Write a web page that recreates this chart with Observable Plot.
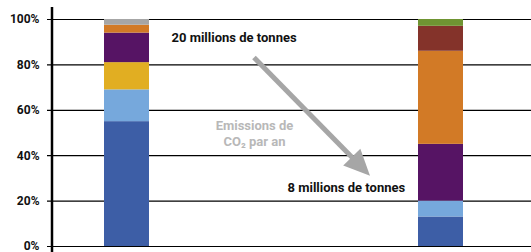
<!DOCTYPE html>
<html>
<head>
<meta charset="utf-8">
<script src="https://cdn.jsdelivr.net/npm/d3@7"></script>
<script src="https://cdn.jsdelivr.net/npm/@observablehq/plot@0.6"></script>
<style>
  body { margin: 0; background: #fff; }
  svg { font-family: Roboto, "DejaVu Sans", sans-serif; }
</style>
</head>
<body>
<div id="chart"></div>
<script>
// Data
const bars = ["Avant", "Après"];
const sources = ["s1", "s2", "s3", "s4", "s5", "s6", "s7", "s8"];
const colors = ["#3d5ea6", "#76a8dc", "#e1ae22", "#561464", "#d27a26", "#a6a6a6", "#84332a", "#6f9432"];
const avantValues = [55, 14, 12, 13, 3.5, 2.5, 0, 0];
const apresValues = [13, 7, 0, 25, 41, 0, 11, 3];
const yTicks = [0, 20, 40, 60, 80, 100];
const labelTop = "20 millions de tonnes";
const labelBottom = "8 millions de tonnes";
const arrowLabel = ["Emissions de", "CO₂ par an"];

const rows = [];
sources.forEach((s, i) => {
  rows.push({bar: bars[0], source: s, value: avantValues[i]});
  rows.push({bar: bars[1], source: s, value: apresValues[i]});
});

// arrow annotation (from ~83% down to ~31%)
const arrowMark = (index, scales, values, dims) => {
  const y = scales.y;
  const x0 = 254, y0 = y(83);
  const x1 = 370, y1 = y(31);
  const dx = x1 - x0, dy = y1 - y0, L = Math.hypot(dx, dy);
  const ux = dx / L, uy = dy / L;
  const headLen = 26, headW = 12;
  const bx = x1 - ux * headLen, by = y1 - uy * headLen;
  const g = d3.create("svg:g");
  g.append("line").attr("x1", x0).attr("y1", y0).attr("x2", bx + ux * 2).attr("y2", by + uy * 2)
    .attr("stroke", "#a6a6a6").attr("stroke-width", 5);
  g.append("path")
    .attr("d", `M${x1},${y1}L${bx - uy * headW},${by + ux * headW}L${bx + uy * headW},${by - ux * headW}Z`)
    .attr("fill", "#a6a6a6");
  return g.node();
};

// vertical axis line
const axisLine = (index, scales, values, dims) => {
  const g = d3.create("svg:line")
    .attr("x1", dims.marginLeft + 5).attr("x2", dims.marginLeft + 5)
    .attr("y1", 7).attr("y2", dims.height)
    .attr("stroke", "#000").attr("stroke-width", 2.5);
  return g.node();
};

const chart = Plot.plot({
  width: 531,
  height: 252,
  marginLeft: 47,
  marginRight: 0,
  marginTop: 19,
  marginBottom: 6,
  style: {fontFamily: "Roboto, sans-serif", background: "#fff"},
  x: {domain: bars, range: [104, 464], paddingInner: 0.857, paddingOuter: 0, align: 0, axis: null},
  y: {domain: [0, 100], axis: null},
  color: {domain: sources, range: colors},
  marks: [
    Plot.ruleY(yTicks, {stroke: "#000", strokeWidth: 1.2}),
    Plot.barY(rows, {x: "bar", y: "value", fill: "source", order: sources}),
    axisLine,
    Plot.text(yTicks, {frameAnchor: "left", y: d => d, text: d => d + "%", dx: -8, textAnchor: "end",
      fontSize: 12, fontWeight: "bold", fill: "#111"}),
    Plot.text([labelTop], {frameAnchor: "top-left", text: d => d, dx: 124, dy: 18, textAnchor: "start",
      lineAnchor: "middle", fontSize: 13, fontWeight: "bold", fill: "#111"}),
    Plot.text([labelBottom], {frameAnchor: "top-left", text: d => d, dx: 240, dy: 168, textAnchor: "start",
      lineAnchor: "middle", fontSize: 13, fontWeight: "bold", fill: "#111"}),
    Plot.text([arrowLabel.join("\n")], {frameAnchor: "top-left", text: d => d, dx: 207, dy: 113, textAnchor: "middle",
      lineAnchor: "middle", lineHeight: 1.25, fontSize: 13, fontWeight: "bold", fill: "#b8b8b8"}),
    arrowMark
  ]
});
document.getElementById("chart").append(chart);
</script>
</body>
</html>
